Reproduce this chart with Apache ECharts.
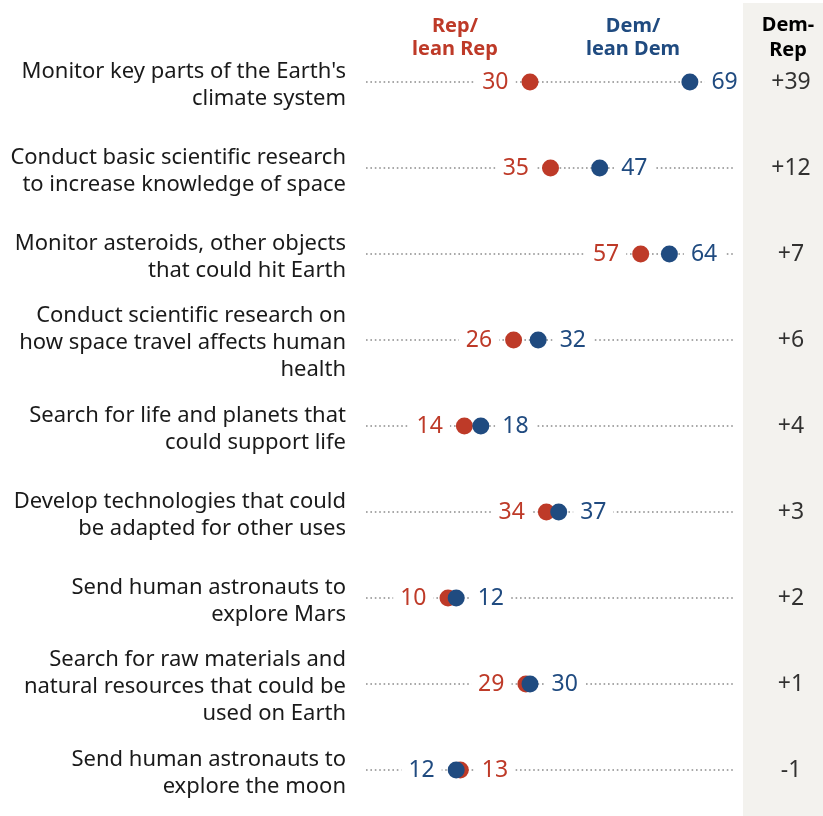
<!DOCTYPE html>
<html>
<head>
<meta charset="utf-8">
<script src="https://cdn.jsdelivr.net/npm/echarts@6/dist/echarts.min.js"></script>
<style>
  html, body { margin: 0; padding: 0; background: #fff; }
  #chart { width: 823px; height: 816px; }
</style>
</head>
<body>
<div id="chart"></div>
<script>
// Priorities for the space agency, by party
const activities = [
  "Monitor key parts of the Earth's\nclimate system",
  "Conduct basic scientific research\nto increase knowledge of space",
  "Monitor asteroids, other objects\nthat could hit Earth",
  "Conduct scientific research on\nhow space travel affects human\nhealth",
  "Search for life and planets that\ncould support life",
  "Develop technologies that could\nbe adapted for other uses",
  "Send human astronauts to\nexplore Mars",
  "Search for raw materials and\nnatural resources that could be\nused on Earth",
  "Send human astronauts to\nexplore the moon"
];
const repValues = [30, 35, 57, 26, 14, 34, 10, 29, 13];
const demValues = [69, 47, 64, 32, 18, 37, 12, 30, 12];
const diffLabels = ["+39", "+12", "+7", "+6", "+4", "+3", "+2", "+1", "-1"];

const RED = '#BE3A28';
const BLUE = '#204B80';
const FONT = '"Noto Sans", "Liberation Sans", Arial, sans-serif';

function pointLabel(color, pos) {
  return {
    show: true,
    position: pos,
    distance: 6,
    color: color,
    fontSize: 23,
    fontFamily: FONT,
    backgroundColor: '#fff',
    padding: [4, 7, 0, 7]
  };
}

const repData = repValues.map((v, i) => ({
  value: [v, i],
  label: pointLabel(RED, v > demValues[i] ? 'right' : 'left')
}));
const demData = demValues.map((v, i) => ({
  value: [v, i],
  label: pointLabel(BLUE, v < repValues[i] ? 'left' : 'right')
}));
const diffData = diffLabels.map((t, i) => ({ value: [0.6, i], name: t }));

const chart = echarts.init(document.getElementById('chart'), null, { renderer: 'canvas' });

chart.setOption({
  animation: false,
  backgroundColor: '#fff',
  textStyle: { fontFamily: FONT },
  graphic: [
    { type: 'rect', z: 50, silent: true, shape: { x: 743, y: 3, width: 80, height: 813 }, style: { fill: '#F3F2EE' } },
    { type: 'text', x: 455, y: 38, style: { text: 'Rep/\nlean Rep', fill: RED, font: 'bold 20px ' + FONT, align: 'center', verticalAlign: 'middle', lineHeight: 23 } },
    { type: 'text', x: 633, y: 38, style: { text: 'Dem/\nlean Dem', fill: BLUE, font: 'bold 20px ' + FONT, align: 'center', verticalAlign: 'middle', lineHeight: 23 } },
    { type: 'text', x: 788, y: 38, z: 60, style: { text: 'Dem-\nRep', fill: '#000', font: 'bold 20px ' + FONT, align: 'center', verticalAlign: 'middle', lineHeight: 25 } }
  ],
  grid: [
    { left: 366, right: 88, top: 82, bottom: 46 },
    { left: 743, right: 0, top: 82, bottom: 46 }
  ],
  xAxis: [
    { gridIndex: 0, type: 'value', min: -10, max: 80, show: false },
    { gridIndex: 1, type: 'value', min: 0, max: 1, show: false }
  ],
  yAxis: [
    {
      gridIndex: 0,
      type: 'category',
      data: activities,
      inverse: true,
      boundaryGap: false,
      axisLine: { show: false },
      axisTick: { show: false },
      axisLabel: {
        margin: 20,
        fontSize: 22,
        lineHeight: 27,
        color: '#1a1a1a',
        align: 'right',
        fontFamily: FONT,
        // a thin spacer line nudges each wrapped label slightly downward
        formatter: v => '{s| }\n' + v,
        rich: { s: { fontSize: 1, lineHeight: 6 } }
      },
      splitLine: {
        show: true,
        interval: 0,
        lineStyle: { color: '#8c8c8c', width: 1.6, type: [1.6, 2.8] }
      }
    },
    {
      gridIndex: 1,
      type: 'category',
      data: activities,
      inverse: true,
      boundaryGap: false,
      show: false
    }
  ],
  series: [
    {
      name: 'Rep/lean Rep',
      type: 'scatter',
      xAxisIndex: 0, yAxisIndex: 0,
      symbol: 'circle',
      symbolSize: 17,
      itemStyle: { color: RED, opacity: 1 },
      data: repData,
      z: 3
    },
    {
      name: 'Dem/lean Dem',
      type: 'scatter',
      xAxisIndex: 0, yAxisIndex: 0,
      symbol: 'circle',
      symbolSize: 17,
      itemStyle: { color: BLUE, opacity: 1 },
      data: demData,
      z: 4
    },
    {
      name: 'Dem-Rep',
      type: 'scatter',
      xAxisIndex: 1, yAxisIndex: 1,
      symbolSize: 0,
      data: diffData,
      z: 60,
      label: {
        show: true,
        position: 'inside',
        formatter: p => p.name,
        padding: [4, 0, 0, 0],
        color: '#000',
        fontSize: 23,
        fontFamily: FONT
      }
    }
  ]
});
</script>
</body>
</html>
